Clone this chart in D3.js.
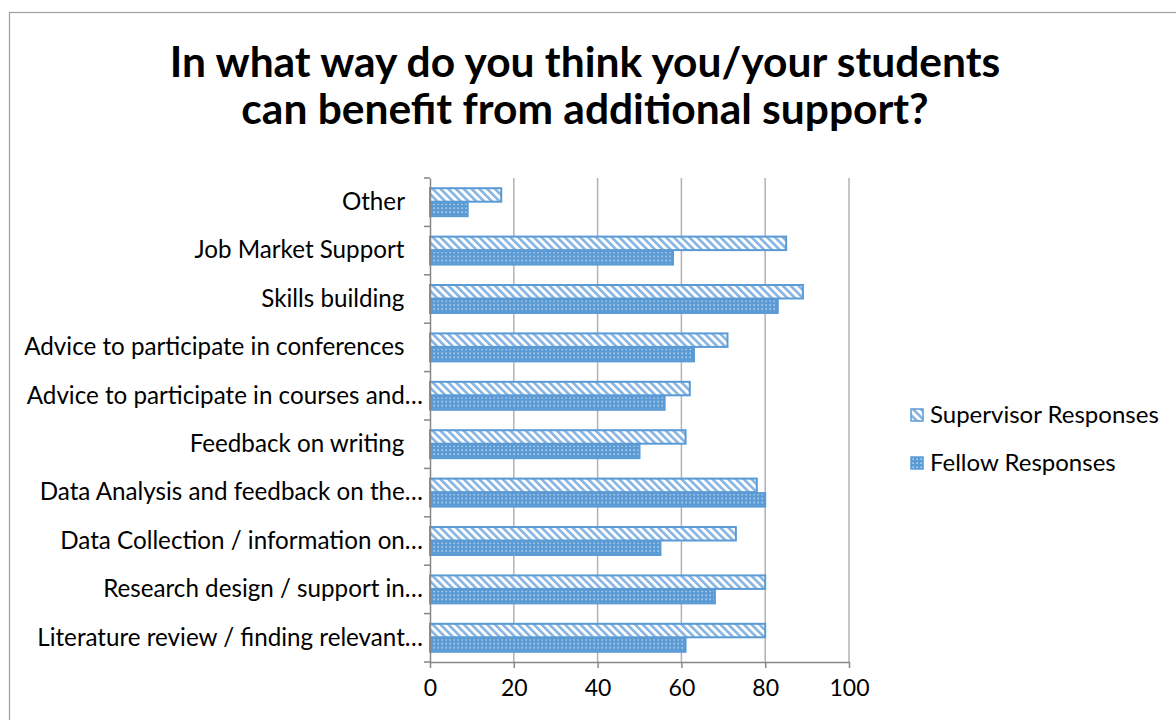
<!DOCTYPE html>
<html>
<head>
<meta charset="utf-8">
<script src="https://cdn.jsdelivr.net/npm/d3@7"></script>
<style>
  body { margin: 0; background: #fff; }
  text { font-family: Lato, "Open Sans", sans-serif; fill: #000; }
</style>
</head>
<body>
<div id="chart"></div>
<script>
// categories, top to bottom as drawn
const categories = [
  "Other   ",
  "Job Market Support   ",
  "Skills building   ",
  "Advice to participate in conferences   ",
  "Advice to participate in courses and…",
  "Feedback on writing   ",
  "Data Analysis and feedback on the…",
  "Data Collection / information on…",
  "Research design / support in…",
  "Literature review / finding relevant…"
];
const supervisorValues = [17, 85, 89, 71, 62, 61, 78, 73, 80, 80];
const fellowValues = [9, 58, 83, 63, 56, 50, 80, 55, 68, 61];
const seriesNames = ["Supervisor Responses", "Fellow Responses"];
const xTicks = [0, 20, 40, 60, 80, 100];
const titleLines = ["In what way do you think you/your students", "can benefit from additional support?"];

const width = 1176, height = 720;
const margin = { top: 178, right: 327, bottom: 58, left: 430 };
const blue = "#5B9BD5";

const svg = d3.select("#chart").append("svg")
  .attr("width", width)
  .attr("height", height);

// patterns
const defs = svg.append("defs");
const diag = defs.append("pattern")
  .attr("id", "pat-sup")
  .attr("patternUnits", "userSpaceOnUse")
  .attr("width", 5.5).attr("height", 5.5)
  .attr("patternTransform", "rotate(-45)");
diag.append("rect").attr("width", 5.5).attr("height", 5.5).attr("fill", "#fff");
diag.append("rect").attr("width", 2.6).attr("height", 5.5).attr("fill", "#86b4e2");

const dots = defs.append("pattern")
  .attr("id", "pat-fel")
  .attr("patternUnits", "userSpaceOnUse")
  .attr("width", 4).attr("height", 4);
dots.append("rect").attr("width", 4).attr("height", 4).attr("fill", blue);
dots.append("rect").attr("x", 1.5).attr("y", 1.5).attr("width", 1.3).attr("height", 1.3).attr("fill", "#e3eef9");

const patterns = ["url(#pat-sup)", "url(#pat-fel)"];

// chart border
svg.append("rect")
  .attr("x", 9.5).attr("y", 12.5)
  .attr("width", 1200).attr("height", 760)
  .attr("fill", "none")
  .attr("stroke", "#a0a0a0")
  .attr("stroke-width", 1.2);

// title
svg.append("g").selectAll("text")
  .data(titleLines)
  .join("text")
  .attr("x", 585)
  .attr("y", (d, i) => 77 + i * 47)
  .attr("text-anchor", "middle")
  .style("font-size", "42.5px")
  .style("font-weight", "bold")
  .text(d => d);

const x = d3.scaleLinear()
  .domain([0, 100])
  .range([margin.left, width - margin.right]);

const y = d3.scaleBand()
  .domain(categories)
  .range([margin.top, height - margin.bottom]);

const ySub = d3.scaleBand()
  .domain(seriesNames)
  .range([0, y.bandwidth()])
  .paddingOuter(0.67);

// gridlines
svg.append("g")
  .selectAll("line")
  .data(xTicks.slice(1))
  .join("line")
  .attr("x1", d => x(d)).attr("x2", d => x(d))
  .attr("y1", margin.top).attr("y2", height - margin.bottom)
  .attr("stroke", "#b3b3b3")
  .attr("stroke-width", 1.5);

// bars
const rows = categories.map((c, i) => ({ cat: c, vals: [supervisorValues[i], fellowValues[i]] }));
const groups = svg.append("g").selectAll("g")
  .data(rows)
  .join("g")
  .attr("transform", d => `translate(0,${y(d.cat)})`);

groups.selectAll("rect")
  .data(d => d.vals.map((v, k) => ({ key: seriesNames[k], value: v, k })))
  .join("rect")
  .attr("x", x(0))
  .attr("y", d => ySub(d.key) + 0.5)
  .attr("width", d => x(d.value) - x(0))
  .attr("height", ySub.bandwidth() - 1)
  .attr("fill", d => patterns[d.k])
  .attr("stroke", blue)
  .attr("stroke-width", 2);

// y axis
const yAxis = svg.append("g")
  .attr("transform", `translate(${margin.left},0)`)
  .call(d3.axisLeft(y).tickSize(0).tickPadding(7));
yAxis.select(".domain").attr("stroke", "#868686").attr("stroke-width", 1.5);
yAxis.selectAll("text")
  .style("font-size", "24.2px")
  .style("font-family", "Lato, sans-serif")
  .style("white-space", "pre")
  .attr("fill", "#000");

// tick marks at band edges
const edges = categories.map(c => y(c)).concat([y.range()[1]]);
svg.append("g").selectAll("line")
  .data(edges)
  .join("line")
  .attr("x1", margin.left - 6).attr("x2", margin.left)
  .attr("y1", d => d).attr("y2", d => d)
  .attr("stroke", "#868686")
  .attr("stroke-width", 1.5);

// x axis
const xAxis = svg.append("g")
  .attr("transform", `translate(0,${height - margin.bottom})`)
  .call(d3.axisBottom(x).tickValues(xTicks).tickSize(6).tickPadding(12).tickSizeOuter(0));
xAxis.select(".domain").attr("stroke", "#868686").attr("stroke-width", 1.5);
xAxis.selectAll(".tick line").attr("stroke", "#868686").attr("stroke-width", 1.5);
xAxis.selectAll("text")
  .style("font-size", "23px")
  .style("font-family", "Lato, sans-serif")
  .attr("fill", "#000");

// legend
const legend = svg.append("g")
  .attr("transform", "translate(911,409)");
const li = legend.selectAll("g")
  .data(seriesNames)
  .join("g")
  .attr("transform", (d, i) => `translate(0,${i * 48})`);
li.append("rect")
  .attr("width", 12).attr("height", 12)
  .attr("fill", (d, i) => patterns[i])
  .attr("stroke", blue)
  .attr("stroke-width", 1.5);
li.append("text")
  .attr("x", 19)
  .attr("y", 14)
  .style("font-size", "24px")
  .text(d => d);
</script>
</body>
</html>
